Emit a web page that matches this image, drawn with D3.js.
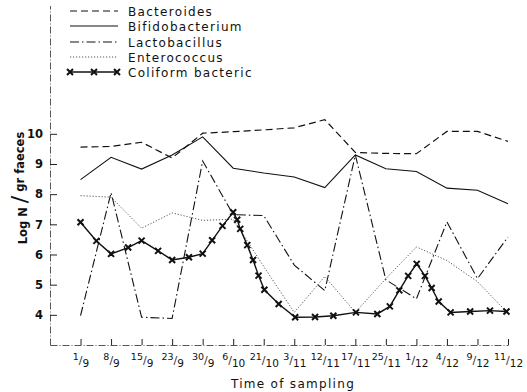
<!DOCTYPE html>
<html><head><meta charset="utf-8">
<script src="https://cdn.jsdelivr.net/npm/d3@7"></script>
<style>body{margin:0;background:#fff}svg{display:block}</style>
</head><body>
<svg id="chart" width="527" height="392"></svg>
<script>
// ---- data ----
const dayLabels   = ["1","8","15","23","30","6","21","3","12","17","25","1","4","9","11"];
const monthLabels = ["9","9","9","9","9","10","10","11","11","11","11","12","12","12","12"];
const bacteroides    = [9.56,9.58,9.72,9.2,10.02,10.07,10.13,10.2,10.47,9.38,9.35,9.34,10.08,10.08,9.75];
const bifidobacterium= [8.48,9.22,8.83,9.3,9.9,8.86,8.7,8.57,8.22,9.3,8.84,8.75,8.2,8.13,7.68];
const lactobacillus  = [3.97,8.05,3.92,3.88,9.1,7.32,7.29,5.65,4.8,9.3,5.16,4.53,7.08,5.2,6.58];
const enterococcus   = [7.95,7.9,6.87,7.38,7.13,7.17,5.6,4.08,5.27,4.08,5.2,6.25,5.8,5.1,4.05];
const coliformPos    = [0,0.52,1,1.56,2,2.54,3,3.55,4,4.31,4.65,5,5.13,5.23,5.46,5.65,5.83,6.02,6.49,7.03,7.68,8.28,9.02,9.72,10.13,10.44,10.73,11.01,11.28,11.5,11.73,12.12,12.76,13.41,13.95];
const coliformValues = [7.07,6.45,6.02,6.23,6.46,6.12,5.82,5.91,6.03,6.47,6.95,7.4,7.15,6.85,6.31,5.82,5.3,4.83,4.36,3.92,3.93,3.97,4.08,4.03,4.28,4.81,5.29,5.69,5.29,4.89,4.44,4.08,4.11,4.14,4.11];
const yTicks = [4,5,6,7,8,9,10];
const seriesNames = ["Bacteroides","Bifidobacterium","Lactobacillus","Enterococcus","Coliform bacteric"];

// ---- scales ----
const svg = d3.select("#chart");
const x = d3.scaleLinear().domain([-1,14]).range([50,508]);
const y = d3.scaleLinear().domain([3,14.25]).range([345,5.6]);
const font = "'DejaVu Sans', sans-serif";

// ---- axes ----
const yAxis = d3.axisLeft(y).tickValues(yTicks).tickSize(-7).tickPadding(7).tickSizeOuter(0);
const gy = svg.append("g").attr("transform","translate(50,0)").call(yAxis);
gy.select(".domain").attr("stroke","#555").attr("stroke-dasharray","7,2,1,2");
gy.selectAll(".tick line").attr("stroke","#222");
gy.selectAll(".tick text").attr("font-family",font).attr("font-size",11.5).attr("font-weight","bold").attr("fill","#111");

const xAxis = d3.axisBottom(x).tickValues(d3.range(0,15)).tickSize(-6).tickSizeOuter(0).tickFormat(()=>"");
const gx = svg.append("g").attr("transform","translate(0,345)").call(xAxis);
gx.select(".domain").attr("stroke","#555").attr("stroke-dasharray","7,2,1,2");
gx.selectAll(".tick line").attr("stroke","#222");
gx.selectAll(".tick").each(function(d){
  const t = d3.select(this).append("text").attr("y",20).attr("fill","#111")
    .attr("font-family",font).attr("text-anchor","middle");
  t.append("tspan").attr("font-size",9.5).attr("dy",-5).text(dayLabels[d]);
  t.append("tspan").attr("font-size",11).attr("dy",4).attr("fill","#333").text("/");
  t.append("tspan").attr("font-size",10.5).attr("dy",3).text(monthLabels[d]);
});

svg.append("text").attr("x",293).attr("y",388).attr("text-anchor","middle")
  .attr("font-family",font).attr("font-size",12).attr("letter-spacing",1.3).attr("fill","#111")
  .text("Time of sampling");

const yl = svg.append("text").attr("transform","translate(27,188) rotate(-90)")
  .attr("text-anchor","middle").attr("font-family",font).attr("font-size",11.5)
  .attr("font-weight","bold").attr("fill","#111");
yl.append("tspan").text("Log N ");
yl.append("tspan").attr("font-size",22).attr("font-weight","normal").text("/");
yl.append("tspan").attr("dy",-3).text(" gr faeces");

// ---- series ----
const line = d3.line().x((d,i)=>x(i)).y(d=>y(d));
const styles = [
  {data:bacteroides, dash:"7,4", w:1.2, c:"#111"},
  {data:bifidobacterium, dash:null, w:1.1, c:"#111"},
  {data:lactobacillus, dash:"9,3,1.5,3", w:1.1, c:"#111"},
  {data:enterococcus, dash:"1.2,1.8", w:1, c:"#555"}
];
styles.forEach(s=>{
  svg.append("path").datum(s.data).attr("d",line).attr("fill","none")
    .attr("stroke",s.c).attr("stroke-width",s.w).attr("stroke-dasharray",s.dash);
});
const colPts = coliformPos.map((p,i)=>[p,coliformValues[i]]);
svg.append("path").datum(colPts)
  .attr("d",d3.line().x(d=>x(d[0])).y(d=>y(d[1])))
  .attr("fill","none").attr("stroke","#111").attr("stroke-width",1.4);
const cross = (sel,cx,cy)=>{
  const r=3;
  sel.append("path").attr("d",`M${cx-r},${cy-r}L${cx+r},${cy+r}M${cx-r},${cy+r}L${cx+r},${cy-r}`)
    .attr("stroke","#111").attr("stroke-width",2).attr("fill","none");
};
const gm = svg.append("g");
colPts.forEach(d=>cross(gm,x(d[0]),y(d[1])));

// ---- legend ----
const legY = [11,26,42,57,72];
const lg = svg.append("g");
seriesNames.forEach((n,i)=>{
  const yy = legY[i];
  if(i<4){
    lg.append("line").attr("x1",70).attr("x2",118).attr("y1",yy).attr("y2",yy)
      .attr("stroke",styles[i].c).attr("stroke-width",styles[i].w).attr("stroke-dasharray",styles[i].dash);
  } else {
    lg.append("line").attr("x1",70).attr("x2",117).attr("y1",yy).attr("y2",yy)
      .attr("stroke","#111").attr("stroke-width",1.4);
    [70,94,117].forEach(cx=>cross(lg,cx,yy));
  }
  lg.append("text").attr("x",128).attr("y",yy+4.5).attr("font-family",font).attr("font-size",12)
    .attr("letter-spacing",1.3).attr("fill","#111").text(n);
});
</script>
</body></html>
